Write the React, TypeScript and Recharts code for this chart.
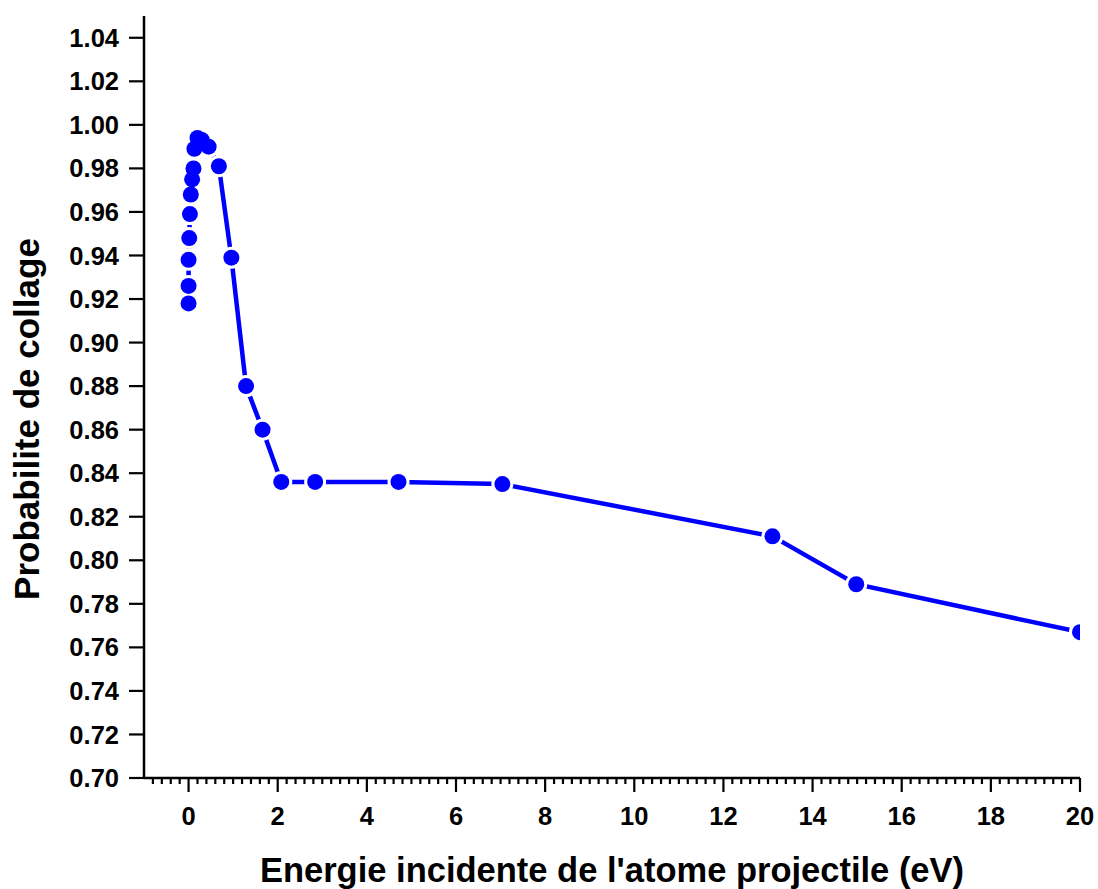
import React from 'react';
import { LineChart, Line, XAxis, YAxis } from 'recharts';

const energy = [0.0, 0.0, 0.0, 0.015, 0.03, 0.05, 0.08, 0.11, 0.13, 0.2, 0.3, 0.45, 0.68, 0.96, 1.29, 1.66, 2.08, 2.84, 4.71, 7.04, 13.1, 14.98, 20.0];
const probability = [0.918, 0.926, 0.938, 0.948, 0.959, 0.968, 0.975, 0.980, 0.989, 0.994, 0.993, 0.990, 0.981, 0.939, 0.880, 0.860, 0.836, 0.836, 0.836, 0.835, 0.811, 0.789, 0.767];

const xMajorTicks = [0, 2, 4, 6, 8, 10, 12, 14, 16, 18, 20];
const yTicks = [0.70, 0.72, 0.74, 0.76, 0.78, 0.80, 0.82, 0.84, 0.86, 0.88, 0.90, 0.92, 0.94, 0.96, 0.98, 1.00, 1.02, 1.04];

const xTitle = "Energie incidente de l'atome projectile (eV)";
const yTitle = 'Probabilite de collage';

const data = energy.map((e, i) => ({ e, p: probability[i] }));

const xAllTicks: number[] = [];
for (let k = -4; k <= 100; k++) xAllTicks.push(Math.round(k * 0.2 * 10) / 10);

const FONT = '"Liberation Sans", Arial, sans-serif';
const BLUE = '#0000ff';

const XTick = (props: any) => {
  const { x, y, payload } = props;
  const v = payload.value;
  const major = xMajorTicks.some((t) => Math.abs(t - v) < 1e-6);
  return (
    <g>
      <line x1={x} x2={x} y1={y} y2={y + (major ? 14 : 6)} stroke="#000" strokeWidth={2.2} />
      {major && (
        <text x={x} y={y + 47} textAnchor="middle" fontFamily={FONT} fontWeight="bold" fontSize={25.5} fill="#000">
          {String(v)}
        </text>
      )}
    </g>
  );
};

export default function App() {
  return (
    <div style={{ position: 'absolute', left: 0, top: 0, background: '#fff' }}>
      <LineChart width={1098} height={889} data={data} margin={{ top: 16, right: 18, left: 0, bottom: 0 }}>
        <XAxis
          dataKey="e"
          type="number"
          domain={[-1, 20]}
          ticks={xAllTicks}
          interval={0}
          allowDataOverflow
          height={111}
          tickLine={false}
          tickSize={0}
          tickMargin={0}
          axisLine={{ stroke: '#000', strokeWidth: 2.5 }}
          tick={<XTick />}
          label={{
            content: () => (
              <text x={612} y={882} textAnchor="middle" fontFamily={FONT} fontWeight="bold" fontSize={34.5} fill="#000">
                {xTitle}
              </text>
            ),
          }}
        />
        <XAxis xAxisId="top" orientation="top" type="number" domain={[-1, 20]} height={0} tick={false} tickLine={false} axisLine={{ stroke: '#000', strokeWidth: 2.5 }} />
        <YAxis
          type="number"
          domain={[0.7, 1.05]}
          ticks={yTicks}
          interval={0}
          allowDataOverflow
          width={144}
          tickSize={15}
          tickMargin={10}
          tickLine={{ stroke: '#000', strokeWidth: 2.2 }}
          axisLine={{ stroke: '#000', strokeWidth: 2.5 }}
          tick={{ fontFamily: FONT, fontWeight: 'bold', fontSize: 25.5, fill: '#000' }}
          tickFormatter={(v: number) => v.toFixed(2)}
          label={{
            content: () => (
              <text x={0} y={0} transform="translate(39,419) rotate(-90)" textAnchor="middle" fontFamily={FONT} fontWeight="bold" fontSize={35} fill="#000">
                {yTitle}
              </text>
            ),
          }}
        />
        <YAxis yAxisId="right" orientation="right" type="number" domain={[0.7, 1.05]} width={0} tick={false} tickLine={false} axisLine={{ stroke: '#000', strokeWidth: 2.5 }} />
        <Line dataKey="p" stroke={BLUE} strokeWidth={4.5} dot={false} isAnimationActive={false} />
        <Line dataKey="p" stroke="none" dot={{ r: 11, fill: '#fff', stroke: 'none' }} activeDot={false} isAnimationActive={false} />
        <Line dataKey="p" stroke="none" dot={{ r: 8, fill: BLUE, stroke: 'none' }} activeDot={false} isAnimationActive={false} />
      </LineChart>
    </div>
  );
}
